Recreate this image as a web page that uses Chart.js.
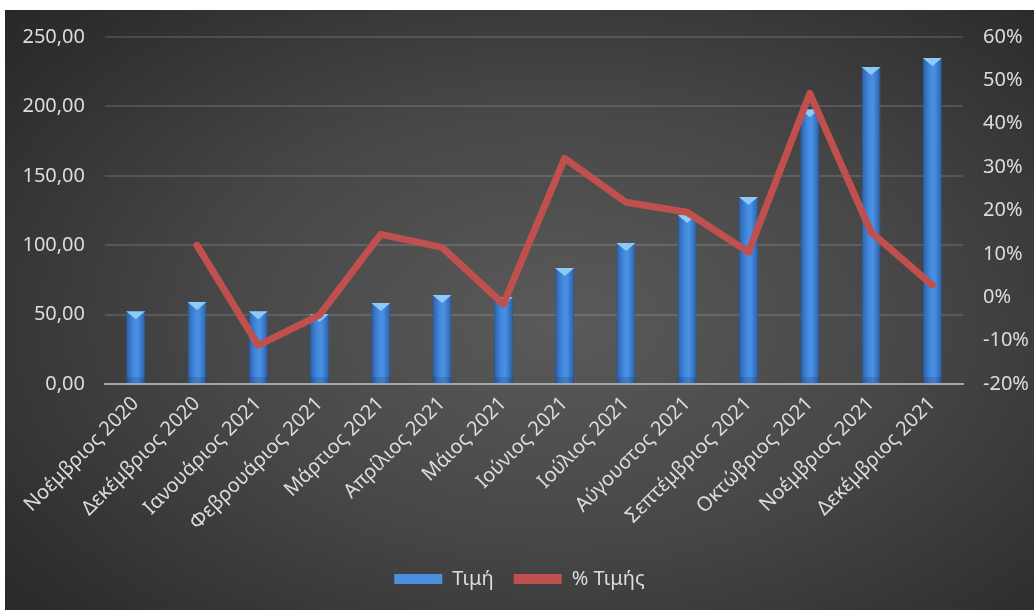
<!DOCTYPE html>
<html>
<head>
<meta charset="utf-8">
<script src="https://cdn.jsdelivr.net/npm/chart.js@4"></script>
<style>
    html, body { margin: 0; padding: 0; background: #ffffff; }
    #wrap {
        position: absolute;
        left: 5px;
        top: 10px;
        width: 1029px;
        height: 600px;
        background: radial-gradient(ellipse 75% 80% at 54% 52%, #5a5a5a 0%, #474747 45%, #2e2e2e 85%, #262626 100%);
    }
</style>
</head>
<body>
<div id="wrap"><canvas id="priceChart"></canvas></div>
<script>
const months = [
    "Νοέμβριος 2020", "Δεκέμβριος 2020", "Ιανουάριος 2021", "Φεβρουάριος 2021",
    "Μάρτιος 2021", "Απρίλιος 2021", "Μάιος 2021", "Ιούνιος 2021",
    "Ιούλιος 2021", "Αύγουστος 2021", "Σεπτέμβριος 2021", "Οκτώβριος 2021",
    "Νοέμβριος 2021", "Δεκέμβριος 2021"
];
const prices = [52.5, 59, 52.5, 50.4, 58.4, 64.1, 62.7, 83.6, 101.6, 121.8, 134.7, 198, 228.4, 234.9];
const priceChange = [null, 12.0, -11.1, -4.1, 14.5, 11.5, -1.6, 32.0, 21.9, 19.6, 10.4, 47.0, 15.0, 2.8];

const textColor = "#dcdcdc";
const font = { family: "'Noto Sans', sans-serif", size: 20 };

// horizontal shading across each bar so it looks rounded
function barFill(context) {
    const chart = context.chart;
    if (!chart.chartArea) return "#3d7fd4";
    const x = chart.scales.x.getPixelForValue(context.dataIndex);
    const g = chart.ctx.createLinearGradient(x - 9, 0, x + 9, 0);
    g.addColorStop(0, "#2c62ac");
    g.addColorStop(0.35, "#4287dc");
    g.addColorStop(0.6, "#4a92e4");
    g.addColorStop(1, "#2d63ad");
    return g;
}

// light bevel triangle on the top of every bar, darker foot at the base
const bevelTop = {
    id: "bevelTop",
    afterDatasetDraw(chart, args) {
        if (args.meta.type !== "bar") return;
        const ctx = chart.ctx;
        ctx.save();
        args.meta.data.forEach((bar) => {
            const half = bar.width / 2;
            ctx.fillStyle = "#8ecaf7";
            ctx.beginPath();
            ctx.moveTo(bar.x - half, bar.y);
            ctx.lineTo(bar.x + half, bar.y);
            ctx.lineTo(bar.x, bar.y + 8);
            ctx.closePath();
            ctx.fill();
            ctx.fillStyle = "rgba(20, 50, 100, 0.2)";
            ctx.fillRect(bar.x - half, bar.base - 6, bar.width, 6);
        });
        ctx.restore();
    }
};

function noEdgePadding(scale) {
    scale.paddingTop = 0;
    scale.paddingBottom = 0;
}

new Chart(document.getElementById("priceChart"), {
    type: "bar",
    data: {
        labels: months,
        datasets: [
            {
                type: "line",
                label: "% Τιμής",
                data: priceChange,
                borderColor: "#c0504d",
                backgroundColor: "#c0504d",
                borderWidth: 7,
                borderJoinStyle: "round",
                borderCapStyle: "round",
                pointRadius: 0,
                tension: 0,
                yAxisID: "y1",
                order: 0
            },
            {
                label: "Τιμή",
                data: prices,
                backgroundColor: barFill,
                borderColor: "#2a5a9c",
                borderWidth: 1,
                categoryPercentage: 1,
                barPercentage: 0.31,
                yAxisID: "y",
                order: 1
            }
        ]
    },
    plugins: [bevelTop],
    options: {
        responsive: true,
        maintainAspectRatio: false,
        animation: false,
        layout: { padding: { top: 27, left: 0, right: 0, bottom: 11 } },
        plugins: {
            tooltip: { enabled: false },
            legend: {
                position: "bottom",
                reverse: true,
                labels: {
                    color: textColor,
                    font: font,
                    boxWidth: 48,
                    boxHeight: 10,
                    padding: 20,
                    generateLabels(chart) {
                        const items = Chart.defaults.plugins.legend.labels.generateLabels(chart);
                        items.forEach((item) => {
                            item.lineWidth = 0;
                            item.fillStyle = item.datasetIndex === 1 ? "#4a8fe0" : "#c0504d";
                        });
                        return items;
                    }
                }
            }
        },
        scales: {
            x: {
                grid: { display: false, drawTicks: false },
                border: { color: "#a6a6a6", width: 2 },
                ticks: {
                    color: textColor,
                    font: font,
                    minRotation: 45,
                    maxRotation: 45,
                    padding: 8
                },
                afterFit(scale) { scale.height = 165; }
            },
            y: {
                position: "left",
                min: 0,
                max: 250,
                grid: { color: "rgba(255, 255, 255, 0.13)", lineWidth: 2, drawTicks: false },
                border: { display: false },
                ticks: {
                    stepSize: 50,
                    color: textColor,
                    font: font,
                    padding: 20,
                    callback: (v) => v.toFixed(2).replace(".", ",")
                },
                afterFit(scale) {
                    scale.width = 100;
                    noEdgePadding(scale);
                }
            },
            y1: {
                position: "right",
                min: -20,
                max: 60,
                grid: { display: false, drawTicks: false },
                border: { display: false },
                ticks: {
                    stepSize: 10,
                    color: textColor,
                    font: font,
                    padding: 20,
                    callback: (v) => v + "%"
                },
                afterFit(scale) {
                    scale.width = 71;
                    noEdgePadding(scale);
                }
            }
        }
    }
});
</script>
</body>
</html>
